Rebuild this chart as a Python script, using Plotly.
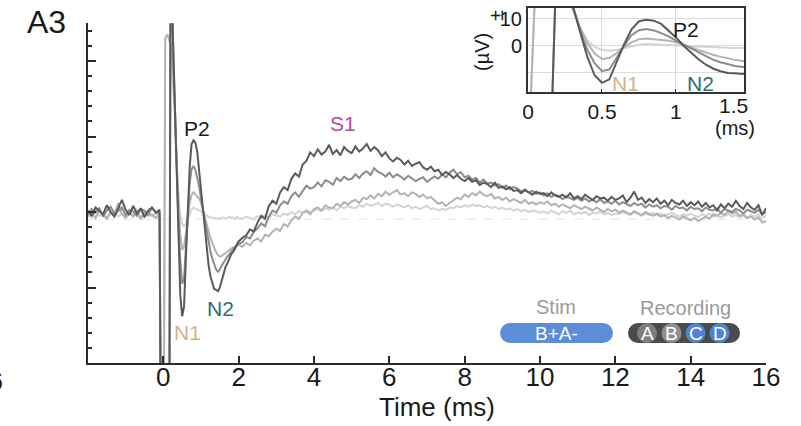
import numpy as np
import plotly.graph_objects as go

# ---------------- sampling grid (ms) ----------------
t_pre = np.round(np.arange(-2.0, -0.0999, 0.1), 3)     # 20 samples
t_early = np.round(np.arange(-0.05, 2.0001, 0.05), 3)  # 42 samples
t_late = np.round(np.arange(2.1, 16.0001, 0.1), 3)     # 140 samples

# ---------------- traces (µV) ----------------
dark_pre = [0.2, -0.5, 0.6, 0.1, -0.3, 0.9, 0.0, -0.6, 0.4, 1.6,
            0.3, -0.4, 0.8, -0.2, 0.5, -0.7, 0.2, 0.6, -0.1, 0.3]
dark_early = [-45, -45, -45, -45, -45, 45, 24, 15, 5, -4,
              -11, -13.8, -12.5, -6, 0.5, 6, 9, 9.5, 9.2, 8,
              5.5, 3, 0, -2.5, -5, -7, -8.5, -9.5, -10.2, -10.3,
              -10.5, -10, -9, -8, -7.3, -6.8, -6.1, -5.6, -5.3, -4.9,
              -4.3, -3.9]
dark_late = [-3.4, -3.1, -2.3, -2.6, -1.4, -0.5, -0.9, 0.8, 1.5, 1.1,
             2.6, 3.3, 2.9, 4.4, 5.1, 4.7, 6.3, 6.8, 7.9, 7.4,
             8.3, 7.6, 8.0, 8.9, 7.7, 8.2, 7.5, 8.6, 8.1, 7.8,
             8.7, 8.0, 8.4, 9.0, 8.1, 8.6, 8.2, 7.4, 7.9, 7.1,
             6.7, 7.2, 6.9, 6.3, 6.8, 6.1, 6.4, 6.6, 5.9, 5.6,
             6.0, 5.4, 5.6, 4.9, 5.3, 5.0, 4.5, 4.9, 4.4, 4.1,
             4.5, 4.0, 4.2, 3.6, 3.9, 3.7, 3.3, 3.9, 3.2, 3.4,
             3.0, 3.3, 2.8, 2.9, 2.5, 2.9, 2.6, 2.3, 2.7, 2.4,
             2.5, 2.1, 2.6, 2.2, 2.0, 2.3, 1.9, 2.5, 1.8, 2.1,
             1.7, 2.3, 1.9, 1.6, 2.1, 1.8, 1.9, 1.5, 2.0, 1.6,
             1.8, 2.2, 1.3, 1.9, 2.7, 1.6, 1.9, 1.2, 1.7, 1.3,
             1.8, 1.1, 1.5, 0.9, 1.6, 1.2, 1.0, 1.5, 0.8, 1.3,
             0.9, 1.4, 0.7, 1.2, 0.6, 0.9, 0.2, 1.0, 0.5, 1.1,
             0.7, 1.5, 0.8, 0.4, 1.2, 0.6, 0.3, 0.9, -0.4, 0.5]

mid_pre = [-0.3, 0.4, -0.1, 0.5, -0.6, 0.2, 0.7, -0.2, 0.1, 0.6,
           -0.4, 0.3, 0.1, -0.5, 0.4, 0.2, -0.3, 0.5, 0.0, -0.2]
mid_early = [-45, -45, -45, -45, -45, 45, 24, 15.5, 6, -1.5,
             -6.5, -9.5, -8.8, -4.5, 0, 3.8, 5.7, 6.1, 5.6, 4.6,
             3.4, 1.8, 0.4, -1, -2.5, -4, -5.2, -6.2, -7, -7.6,
             -7.9, -7.6, -7.1, -6.6, -6.3, -5.9, -5.6, -5.2, -5.0, -4.7,
             -4.5, -4.2]
mid_late = [-4.0, -3.3, -3.5, -2.6, -2.2, -1.5, -1.9, -0.6, 0.2, -0.1,
            0.9, 1.4, 1.1, 2.1, 2.6, 2.0, 2.8, 3.5, 3.1, 3.3,
            3.9, 3.4, 4.2, 4.0, 3.6, 4.5, 4.1, 4.7, 4.3, 4.4,
            5.0, 4.5, 5.1, 5.4, 4.9, 5.8, 5.3, 5.1, 4.7, 5.2,
            4.6, 5.0, 4.7, 4.3, 4.8, 4.5, 4.1, 4.4, 4.6, 4.0,
            4.3, 4.7, 4.4, 5.0, 4.6, 5.2, 5.6, 5.0, 5.3, 4.6,
            4.8, 4.3, 4.5, 3.9, 4.3, 3.8, 3.9, 3.5, 3.7, 3.2,
            3.5, 3.0, 3.3, 3.1, 2.7, 3.0, 2.6, 2.8, 2.4, 2.6,
            2.2, 2.5, 2.0, 2.3, 2.1, 1.7, 2.1, 1.8, 1.6, 1.9,
            1.5, 1.8, 1.4, 1.6, 1.3, 1.7, 1.2, 1.4, 1.1, 1.5,
            1.0, 1.3, 1.1, 0.8, 1.2, 0.9, 1.1, 0.6, 1.0, 0.7,
            0.9, 0.5, 0.8, 0.7, 0.3, 0.8, 0.5, 0.6, 0.2, 0.7,
            0.4, 0.5, 0.1, 0.6, 0.3, 0.2, 0.5, -0.1, 0.4, 0.2,
            0.0, 0.4, 0.2, -0.2, 0.3, 0.1, -0.1, 0.3, -0.3, 0.0]

light_pre = [-0.6, -0.1, -0.8, 0.2, -0.4, -0.9, 0.0, -0.5, 1.2, -0.3,
             -0.7, 0.1, -0.6, -0.2, -0.9, 0.0, -0.5, -0.3, -0.8, -0.4]
light_early = [-45, -45, 23, 23.5, 23, 22, 19, 14.5, 7, 1,
               -3, -5, -4.6, -2.8, -0.6, 1.2, 2.3, 2.6, 2.3, 2.0,
               1.8, 1.2, 0.4, -0.6, -1.6, -2.6, -3.4, -4.1, -4.8, -5.3,
               -5.7, -5.9, -5.8, -5.6, -5.4, -5.3, -5.0, -4.9, -4.7, -4.6,
               -4.4, -4.3]
light_late = [-4.6, -4.1, -4.4, -3.8, -3.5, -3.9, -3.0, -3.2, -2.6, -2.2,
              -2.5, -1.6, -1.9, -1.1, -0.6, -0.9, -0.1, 0.1, -0.3, 0.4,
              0.6, 0.2, 0.9, 0.6, 0.5, 1.1, 0.8, 1.3, 1.0, 1.4,
              1.6, 1.2, 1.9, 1.7, 2.2, 1.8, 2.4, 2.1, 2.7, 2.3,
              2.6, 2.9, 2.3, 2.5, 2.1, 2.6, 2.4, 2.0, 2.3, 1.8,
              2.0, 1.5, 1.1, 1.3, 0.8, 1.2, 1.6, 1.9, 1.7, 2.3,
              2.0, 2.5, 2.2, 2.7, 2.3, 2.1, 2.4, 1.8, 2.0, 1.6,
              1.9, 1.4, 1.7, 1.5, 1.2, 1.6, 1.1, 1.3, 1.0, 1.3,
              1.1, 1.4, 0.9, 1.1, 0.7, 1.0, 0.8, 0.5, 0.9, 0.6,
              0.4, 0.7, 0.5, 0.2, 0.6, 0.3, 0.0, 0.4, 0.1, 0.3,
              -0.1, 0.2, 0.0, -0.3, 0.1, -0.2, -0.4, 0.0, -0.3, -0.5,
              -0.2, -0.6, -0.4, -0.8, -0.5, -0.7, -1.0, -0.6, -0.9, -1.1,
              -0.8, -1.2, -0.9, -0.6, -0.9, -0.3, -0.5, -0.1, -0.4, 0.1,
              -0.2, 0.0, -0.5, -0.3, -0.8, -0.6, -1.0, -0.7, -1.4, -1.2]

faint_pre = [-0.2, -0.7, 0.1, -0.5, -0.1, -0.8, -0.3, 0.2, -0.6, -0.2,
             -0.9, -0.1, -0.4, 0.3, -0.7, -0.3, 0.0, -0.6, -0.2, -0.5]
faint_early = [-45, -45, 23, 23.5, 23, 22, 18, 13.5, 7, 2,
               -0.5, -1.6, -1.9, -1.6, -0.9, -0.2, 0.3, 0.6, 0.5, 0.3,
               0.2, 0.1, -0.1, -0.3, -0.4, -0.6, -0.7, -0.8, -0.8, -0.9,
               -0.8, -0.9, -0.8, -0.7, -0.9, -0.8, -0.6, -0.8, -0.7, -0.9,
               -0.6, -0.8]
faint_late = [-0.9, -0.6, -0.8, -1.0, -0.5, -0.7, -0.4, -0.8, -0.3, -0.5,
              -0.6, -0.2, -0.4, 0.0, -0.3, 0.1, -0.1, 0.3, 0.0, 0.2,
              0.4, 0.1, 0.5, 0.3, 0.6, 0.2, 0.7, 0.5, 0.8, 0.6,
              0.5, 0.9, 0.7, 1.1, 0.8, 1.0, 1.2, 0.8, 1.1, 1.0,
              0.7, 1.0, 0.8, 0.6, 0.9, 0.5, 0.7, 0.4, 0.6, 0.8,
              0.4, 0.5, 0.2, 0.4, 0.3, 0.6, 0.5, 0.8, 0.6, 0.9,
              0.7, 1.0, 0.8, 0.9, 0.6, 0.8, 0.5, 0.7, 0.4, 0.6,
              0.3, 0.5, 0.2, 0.4, 0.1, 0.3, 0.0, 0.2, 0.1, -0.1,
              0.1, -0.2, 0.2, 0.0, -0.3, 0.1, -0.1, 0.2, -0.3, -0.1,
              -0.2, 0.0, -0.4, -0.1, -0.2, 0.1, -0.3, -0.1, -0.4, -0.2,
              -0.3, 0.0, -0.2, -0.4, 0.0, -0.3, -0.5, -0.2, -0.4, -0.1,
              -0.4, -0.2, -0.5, -0.3, -0.1, -0.4, -0.6, -0.3, -0.5, -0.2,
              -0.5, -0.7, -0.3, -0.5, -0.2, -0.6, -0.4, -0.7, -0.5, -0.3,
              -0.6, -0.4, -0.7, -0.5, -0.8, -0.4, -0.6, -0.3, -0.8, -0.5]

baseline_ref = -0.95  # faint dashed reference level

x_ticks = [0, 2, 4, 6, 8, 10, 12, 14, 16]
inset_x_ticks = [0, 0.5, 1]
inset_x_labels = ["0", "0.5", "1"]
inset_y_ticks = [-10, 0, 10]
inset_y_labels = ["", "0", "10"]

t_all = np.concatenate([t_pre, t_early, t_late])
series = [
    ("faint", faint_pre + faint_early + faint_late, "#d4d4d4"),
    ("light", light_pre + light_early + light_late, "#b3b3b3"),
    ("mid", mid_pre + mid_early + mid_late, "#8c8c8c"),
    ("dark", dark_pre + dark_early + dark_late, "#5a5a5a"),
]
for name, ys, _ in series:
    assert len(ys) == len(t_all), (name, len(ys), len(t_all))

# ---------------- layout geometry ----------------
W, H = 801, 426
ML, MR, MT, MB = 88, 20, 5, 63
PW, PH = W - ML - MR, H - MT - MB


def PX(x):
    return (x - ML) / PW


def PY(y):
    return (H - MB - y) / PH


FONT = "Liberation Sans, Arial, sans-serif"
AX = "#2a2a2a"

fig = go.Figure()
for name, ys, col in series:
    fig.add_trace(go.Scatter(x=t_all, y=ys, mode="lines", name=name,
                             line=dict(color=col, width=2), xaxis="x", yaxis="y",
                             showlegend=False, hoverinfo="skip"))
for name, ys, col in series:
    fig.add_trace(go.Scatter(x=t_all, y=ys, mode="lines", name=name + " inset",
                             line=dict(color=col, width=2), xaxis="x2", yaxis="y2",
                             showlegend=False, hoverinfo="skip"))

fig.update_layout(
    width=W, height=H,
    margin=dict(l=ML, r=MR, t=MT, b=MB, pad=0),
    paper_bgcolor="white", plot_bgcolor="white",
    font=dict(family=FONT, color="#1a1a1a"),
    xaxis=dict(domain=[0, PX(766)], range=[-2, 16], anchor="y",
               showline=True, linecolor=AX, linewidth=2,
               ticks="inside", ticklen=7, tickwidth=1.5, tickcolor=AX,
               tickvals=x_ticks, tickfont=dict(size=26, color="#1a1a1a"),
               ticklabelstandoff=-10,
               showgrid=False, zeroline=False, automargin=False),
    yaxis=dict(domain=[0, PY(23.3)], range=[-20, 25], anchor="x",
               showline=True, linecolor=AX, linewidth=2,
               ticks="inside", ticklen=8, tickwidth=1.5, tickcolor=AX,
               tick0=0, dtick=10, showticklabels=False,
               minor=dict(dtick=2, tick0=0, ticks="inside", ticklen=4,
                          tickwidth=1.5, tickcolor=AX, showgrid=False),
               showgrid=False, zeroline=False, automargin=False),
    xaxis2=dict(domain=[PX(528), PX(744)], range=[0, 1.46], anchor="y2",
                showline=True, mirror=True, linecolor="#333", linewidth=2,
                ticks="inside", ticklen=3, tickcolor="#333",
                tickvals=inset_x_ticks, ticktext=inset_x_labels,
                tickfont=dict(size=21, color="#1a1a1a"),
                showgrid=True, gridcolor="#dcdcdc", gridwidth=1, zeroline=False,
                automargin=False),
    yaxis2=dict(domain=[PY(92), PY(8)], range=[-17.2, 13.9], anchor="x2",
                showline=True, mirror=True, linecolor="#333", linewidth=2,
                ticks="", tickvals=inset_y_ticks, ticktext=inset_y_labels,
                tickfont=dict(size=20, color="#1a1a1a"),
                showgrid=True, gridcolor="#dcdcdc", gridwidth=1, zeroline=False,
                automargin=False),
)

shapes = [
    dict(type="line", xref="x", yref="y", x0=-2, x1=16, y0=baseline_ref, y1=baseline_ref,
         line=dict(color="#e4e4e4", width=1, dash="dash"), layer="below"),
]


def pill(cx, cy, half, r, color):
    out = [dict(type="rect", xref="paper", yref="paper", xsizemode="pixel", ysizemode="pixel",
                xanchor=PX(cx), yanchor=PY(cy), x0=-half, x1=half, y0=-r, y1=r,
                fillcolor=color, line=dict(width=0))]
    for dx in (-half, half):
        out.append(dict(type="circle", xref="paper", yref="paper", xsizemode="pixel",
                        ysizemode="pixel", xanchor=PX(cx + dx), yanchor=PY(cy),
                        x0=-r, x1=r, y0=-r, y1=r, fillcolor=color, line=dict(width=0)))
    return out


def dot(cx, cy, r, color):
    return dict(type="circle", xref="paper", yref="paper", xsizemode="pixel", ysizemode="pixel",
                xanchor=PX(cx), yanchor=PY(cy), x0=-r, x1=r, y0=-r, y1=r,
                fillcolor=color, line=dict(width=0))


shapes += pill(556.5, 333, 46.5, 10, "#5d8cd8")
shapes += pill(684, 333, 46, 10, "#4b4b4b")
rec_dots = [("A", 647, "#7e7e7e"), ("B", 671.5, "#8e8e8e"), ("C", 695.5, "#4f83d6"), ("D", 719.5, "#4f83d6")]
for _, cx, col in rec_dots:
    shapes.append(dot(cx, 333, 10, col))
fig.update_layout(shapes=shapes)


def ann(text, x, y, size, color="#1a1a1a", angle=0, xanchor="center"):
    fig.add_annotation(text=text, x=PX(x), y=PY(y), xref="paper", yref="paper",
                       showarrow=False, xanchor=xanchor, yanchor="middle",
                       textangle=angle, font=dict(size=size, color=color, family=FONT))


ann("A3", 46, 22, 32)
ann("16", 5, 381, 26, xanchor="right")
ann("Time (ms)", 437, 407, 26)
ann("P2", 197, 128, 21)
ann("N1", 187, 332, 21, "#d6b28c")
ann("N2", 220, 308, 21, "#2b6d78")
ann("S1", 343, 124, 21, "#b24aa2")
ann("P2", 686, 29, 21)
ann("N1", 625, 84, 21, "#d6b28c")
ann("N2", 700, 84, 21, "#2b6d78")
ann("1.5", 733, 106, 21)
ann("(ms)", 735, 128, 20)
ann("(µV)", 482, 52, 20, angle=-90)
ann("±", 496, 16, 20, angle=-90)
ann("Stim", 556, 307, 20, "#9a9a9a")
ann("Recording", 685, 308, 20, "#9a9a9a")
ann("B+A-", 556.5, 333, 19, "white")
for letter, cx, _ in rec_dots:
    ann(letter, cx, 333, 19, "white")

# the page body has a default 8px margin; remove it so the figure sits at the window's corner
fig.write_html("out.html", config={"displayModeBar": False},
               post_script="document.body.style.margin='0px';")
